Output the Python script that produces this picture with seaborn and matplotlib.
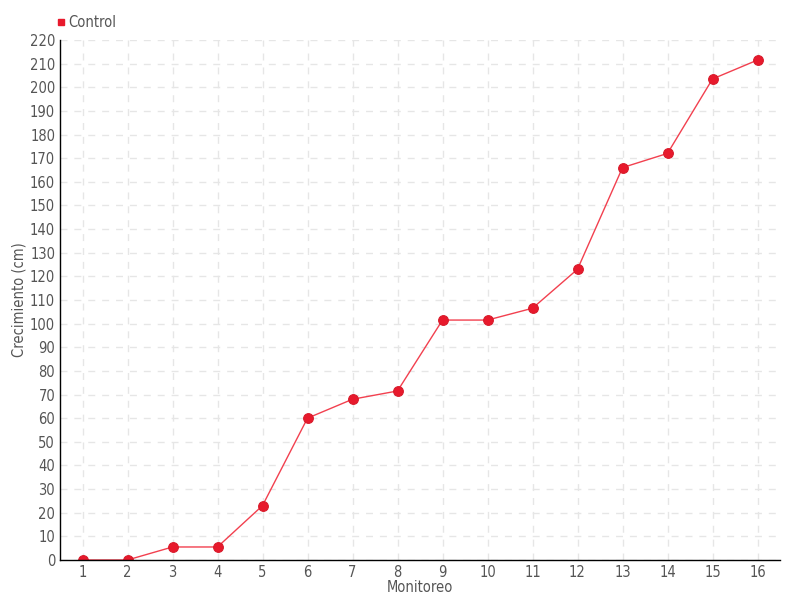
import matplotlib
matplotlib.use("Agg")
import matplotlib.pyplot as plt
import seaborn as sns
import pandas as pd
from matplotlib.lines import Line2D

monitoreo = list(range(1, 17))
control = [0, 0, 5.5, 5.5, 23, 60, 68, 71.5, 101.5, 101.5, 106.5, 123, 166, 172, 203.5, 211.5]
y_ticks = list(range(0, 221, 10))

sns.set_style("white")
plt.rcParams['font.family'] = ['DejaVu Sans']
plt.rcParams['font.stretch'] = 'condensed'

df = pd.DataFrame({"Monitoreo": monitoreo, "Control": control})

fig = plt.figure(figsize=(8, 6), dpi=100)
ax = fig.add_axes([0.075, 0.0667, 0.9, 0.8667])

sns.lineplot(data=df, x="Monitoreo", y="Control", ax=ax, color="#f2404f", linewidth=1,
             marker="o", markersize=7, markerfacecolor="#e8192c", markeredgecolor="#d81a2a",
             markeredgewidth=0.8)

ax.set_xlim(0.5, 16.5)
ax.set_ylim(0, 220)
ax.set_xticks(monitoreo)
ax.set_yticks(y_ticks)
ax.grid(True, linestyle=(0, (5, 5)), color="#e6e6e6", linewidth=1)
ax.set_axisbelow(True)
for s in ["top", "right"]:
    ax.spines[s].set_visible(False)
for s in ["left", "bottom"]:
    ax.spines[s].set_color("black")
    ax.spines[s].set_linewidth(1)
ax.tick_params(axis="both", direction="inout", length=5, width=1, color="#333333",
               labelsize=10.5, labelcolor="#555555", pad=1)
ax.set_xlabel("Monitoreo", fontsize=10.5, color="#555555", labelpad=0)
ax.set_ylabel("Crecimiento (cm)", fontsize=10.5, color="#555555", labelpad=2)

handle = Line2D([], [], marker="s", linestyle="none", color="#e8192c", markersize=4.5)
fig.legend([handle], ["Control"], loc="upper left", bbox_to_anchor=(0.056, 0.997),
           frameon=False, handlelength=0.4, handletextpad=0.3, fontsize=10.5,
           labelcolor="#555555")

fig.savefig("out.png", dpi=100)
